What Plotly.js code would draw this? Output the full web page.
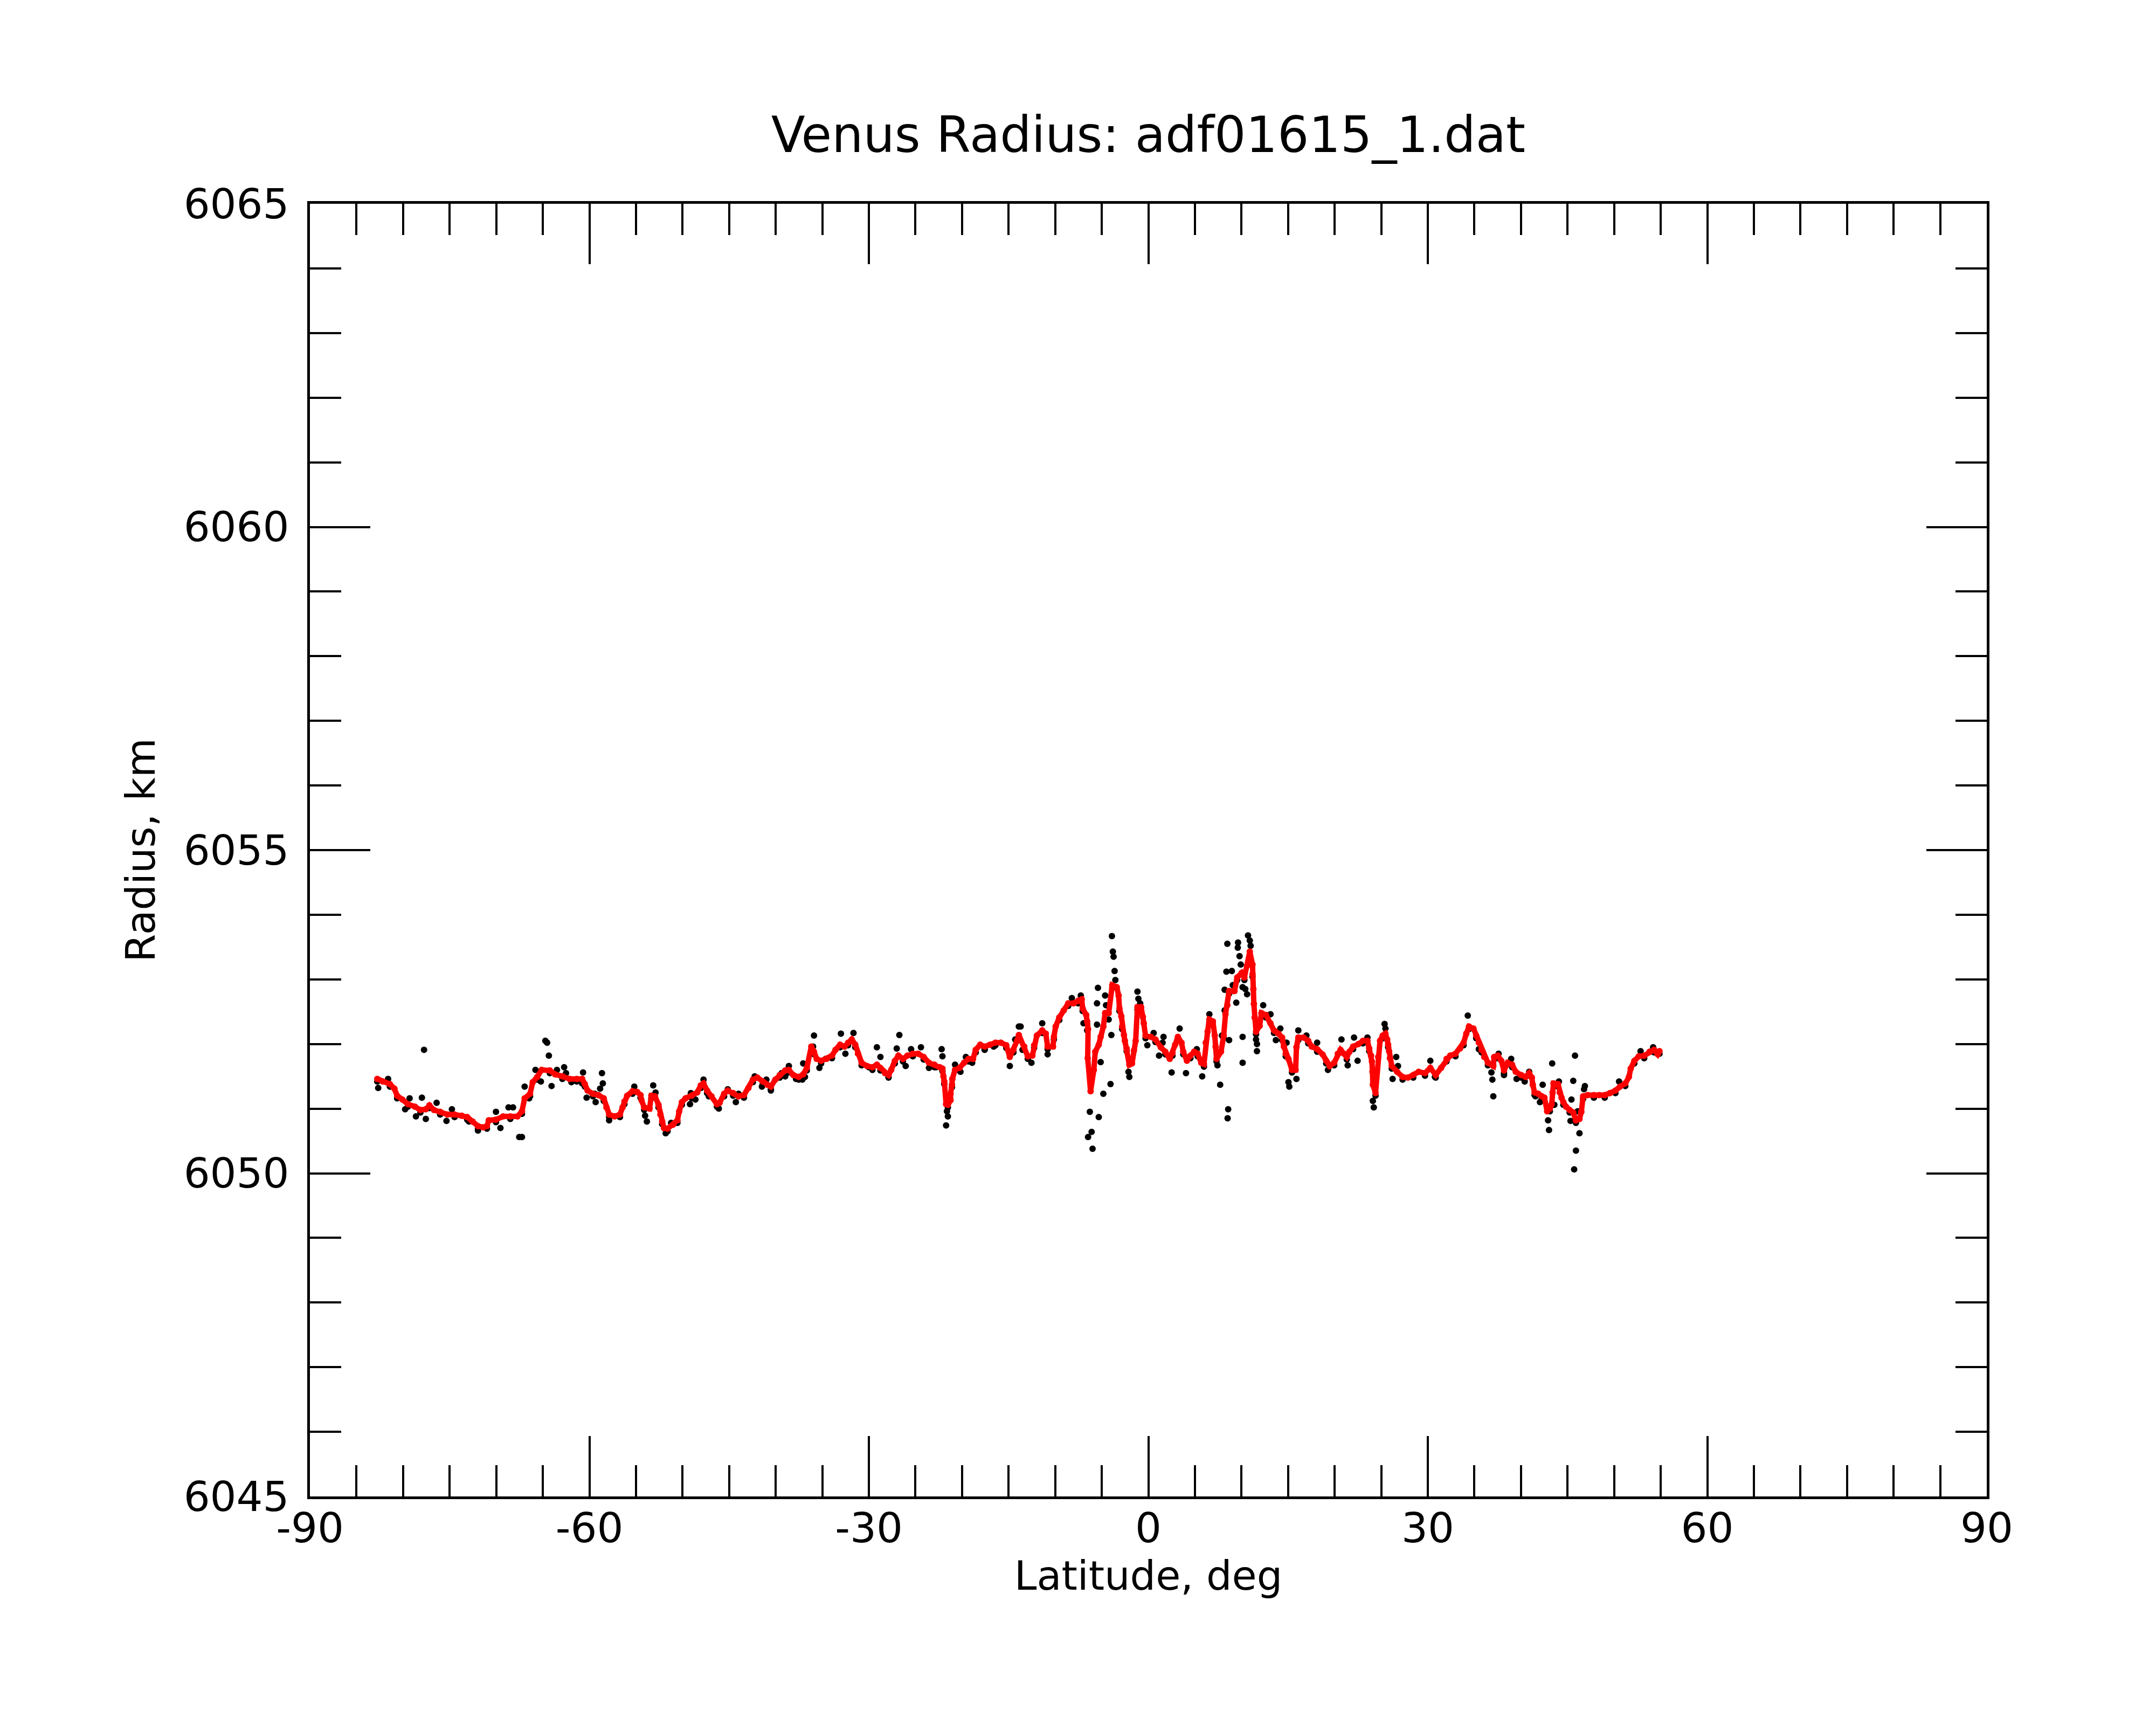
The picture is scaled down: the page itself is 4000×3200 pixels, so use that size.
<!DOCTYPE html>
<html>
<head>
<meta charset="utf-8">
<script src="https://cdn.plot.ly/plotly-3.0.1.min.js"></script>
<style>
  html, body { margin: 0; padding: 0; background: #fff; }
  #graph { width: 4000px; height: 3200px; }
</style>
</head>
<body>
<div id="graph"></div>
<script>
// filtered radius profile (red)
const redLat = [
  -82.77, -82.19, -81.42, -80.93, -80.64, -80.07, -79.49, -78.72, -78.14, -77.56,
  -77.17, -76.69, -76.02, -75.24, -74.47, -73.70, -73.12, -72.54, -71.96, -71.39,
  -71.00, -70.80, -70.03, -69.26, -68.49, -67.72, -67.24, -66.95, -66.37, -66.08,
  -65.60, -65.12, -64.25, -63.67, -62.90, -62.12, -61.35, -60.78, -60.49, -60.20,
  -59.62, -59.04, -58.46, -58.17, -57.88, -57.30, -56.72, -56.44, -56.24, -55.95,
  -55.37, -54.89, -54.51, -54.41, -54.12, -53.54, -53.35, -52.96, -52.58, -52.38,
  -52.19, -52.00, -51.61, -51.03, -50.55, -50.36, -50.07, -49.68, -49.01, -48.43,
  -48.04, -47.75, -47.37, -46.89, -46.31, -46.02, -45.54, -45.15, -44.57, -43.99,
  -43.41, -42.93, -42.45, -41.97, -41.39, -40.91, -40.52, -40.04, -39.56, -38.98,
  -38.59, -38.11, -37.53, -37.05, -36.66, -36.18, -35.89, -35.60, -35.12, -34.54,
  -33.96, -33.58, -33.09, -32.61, -32.23, -31.84, -31.46, -31.17, -30.78, -30.20,
  -29.62, -29.14, -28.76, -28.27, -27.89, -27.60, -27.21, -26.83, -26.34, -25.86,
  -25.28, -24.70, -24.12, -23.55, -22.97, -22.39, -22.10, -22.00, -21.90, -21.71,
  -21.52, -21.23, -21.23, -21.08, -21.04, -20.75, -20.27, -19.78, -19.30, -18.82,
  -18.53, -18.05, -17.57, -16.99, -16.41, -15.83, -15.25, -14.87, -14.48, -14.09,
  -13.90, -13.32, -12.94, -12.45, -12.26, -11.97, -11.39, -11.01, -10.81, -10.23,
  -10.14, -9.95, -9.56, -9.08, -8.60, -8.02, -7.53, -7.15, -7.05, -6.67,
  -6.57, -6.47, -6.51, -6.20, -6.20, -5.85, -5.70, -5.32, -5.12, -4.83,
  -4.64, -4.26, -3.87, -3.39, -3.19, -3.10, -2.90, -2.81, -2.62, -2.52,
  -2.33, -2.04, -1.75, -1.55, -1.36, -1.17, -0.78, -0.59, -0.49, -0.30,
  0.28, 0.76, 1.34, 1.82, 2.30, 2.59, 2.88, 3.17, 3.56, 3.75,
  4.14, 4.52, 4.91, 5.29, 5.68, 5.97, 6.16, 6.36, 6.55, 6.93,
  7.13, 7.22, 7.32, 7.80, 8.09, 8.28, 8.48, 8.67, 9.15, 9.25,
  9.54, 10.02, 10.31, 10.60, 10.89, 11.18, 11.18, 11.27, 11.33, 11.41,
  11.56, 11.95, 12.14, 12.62, 13.11, 13.49, 13.97, 14.36, 14.55, 14.75,
  15.04, 15.42, 15.81, 15.90, 16.10, 16.67, 17.16, 17.54, 18.12, 18.70,
  19.09, 19.47, 19.95, 20.34, 20.63, 21.01, 21.30, 21.59, 21.98, 22.56,
  23.04, 23.52, 23.71, 23.91, 24.00, 24.06, 24.10, 24.39, 24.68, 24.87,
  25.16, 25.45, 25.64, 25.74, 25.84, 25.93, 26.13, 26.71, 27.29, 27.86,
  28.44, 29.02, 29.70, 30.27, 30.85, 31.43, 32.01, 32.40, 32.97, 33.46,
  33.84, 34.13, 34.42, 34.90, 35.19, 35.48, 35.77, 36.06, 36.45, 37.03,
  37.12, 37.51, 37.89, 38.18, 38.57, 39.05, 39.44, 40.02, 40.50, 40.88,
  41.17, 41.27, 41.46, 41.85, 42.23, 42.52, 42.81, 43.10, 43.30, 43.39,
  43.49, 43.97, 44.16, 44.36, 44.55, 44.84, 45.22, 45.61, 45.90, 46.28,
  46.48, 46.67, 47.15, 47.83, 48.41, 48.99, 49.56, 50.14, 50.63, 51.20,
  51.59, 51.78, 52.17, 52.65, 53.23, 53.81, 54.29, 54.68, 54.87
];
const redRad = [
  6051.46, 6051.42, 6051.38, 6051.31, 6051.20, 6051.14, 6051.07, 6051.03, 6050.98, 6050.99,
  6051.05, 6050.98, 6050.95, 6050.91, 6050.91, 6050.89, 6050.87, 6050.80, 6050.73, 6050.71,
  6050.73, 6050.82, 6050.83, 6050.88, 6050.88, 6050.88, 6050.96, 6051.16, 6051.23, 6051.41,
  6051.49, 6051.60, 6051.59, 6051.53, 6051.50, 6051.46, 6051.46, 6051.46, 6051.38, 6051.28,
  6051.23, 6051.21, 6051.16, 6051.02, 6050.91, 6050.88, 6050.91, 6051.02, 6051.11, 6051.20,
  6051.27, 6051.26, 6051.21, 6051.13, 6051.02, 6051.00, 6051.20, 6051.19, 6051.06, 6050.91,
  6050.80, 6050.70, 6050.69, 6050.75, 6050.82, 6050.96, 6051.10, 6051.16, 6051.20, 6051.25,
  6051.36, 6051.39, 6051.28, 6051.19, 6051.07, 6051.09, 6051.23, 6051.28, 6051.24, 6051.19,
  6051.21, 6051.32, 6051.45, 6051.48, 6051.42, 6051.37, 6051.34, 6051.45, 6051.52, 6051.59,
  6051.60, 6051.52, 6051.49, 6051.53, 6051.63, 6051.96, 6051.88, 6051.77, 6051.74, 6051.77,
  6051.82, 6051.91, 6051.99, 6051.96, 6052.02, 6052.07, 6051.99, 6051.85, 6051.71, 6051.66,
  6051.64, 6051.68, 6051.63, 6051.55, 6051.52, 6051.60, 6051.74, 6051.82, 6051.77, 6051.82,
  6051.85, 6051.85, 6051.80, 6051.71, 6051.68, 6051.64, 6051.62, 6051.50, 6051.42, 6051.07,
  6051.06, 6051.13, 6051.23, 6051.37, 6051.46, 6051.60, 6051.63, 6051.71, 6051.77, 6051.77,
  6051.91, 6051.99, 6051.96, 6051.99, 6052.02, 6052.02, 6051.98, 6051.80, 6051.91, 6052.05,
  6052.14, 6051.96, 6051.81, 6051.82, 6051.98, 6052.13, 6052.21, 6052.16, 6051.96, 6051.96,
  6052.11, 6052.27, 6052.41, 6052.52, 6052.63, 6052.63, 6052.67, 6052.69, 6052.55, 6052.45,
  6052.35, 6052.23, 6051.78, 6051.43, 6051.27, 6051.60, 6051.88, 6051.99, 6052.11, 6052.27,
  6052.48, 6052.48, 6052.91, 6052.88, 6052.75, 6052.55, 6052.43, 6052.27, 6052.14, 6052.05,
  6051.93, 6051.68, 6051.70, 6051.90, 6052.05, 6052.57, 6052.57, 6052.42, 6052.32, 6052.13,
  6052.11, 6052.07, 6051.95, 6051.88, 6051.77, 6051.86, 6051.99, 6052.11, 6052.02, 6051.88,
  6051.74, 6051.82, 6051.88, 6051.85, 6051.71, 6051.69, 6052.02, 6052.19, 6052.38, 6052.35,
  6052.13, 6051.96, 6051.77, 6051.88, 6052.13, 6052.46, 6052.60, 6052.82, 6052.82, 6052.82,
  6053.03, 6053.10, 6053.03, 6053.21, 6053.43, 6053.23, 6053.08, 6052.85, 6052.62, 6052.41,
  6052.19, 6052.28, 6052.48, 6052.45, 6052.32, 6052.21, 6052.16, 6052.10, 6051.96, 6051.85,
  6051.77, 6051.60, 6051.60, 6051.95, 6052.10, 6052.10, 6052.05, 6051.96, 6051.92, 6051.84,
  6051.74, 6051.66, 6051.71, 6051.85, 6051.91, 6051.85, 6051.80, 6051.88, 6051.96, 6052.00,
  6052.05, 6052.05, 6051.93, 6051.82, 6051.73, 6051.57, 6051.37, 6051.24, 6051.80, 6052.05,
  6052.13, 6052.16, 6052.07, 6051.99, 6051.89, 6051.78, 6051.66, 6051.57, 6051.49, 6051.48,
  6051.52, 6051.57, 6051.55, 6051.63, 6051.52, 6051.63, 6051.77, 6051.82, 6051.85, 6051.93,
  6052.02, 6052.16, 6052.27, 6052.24, 6052.13, 6052.02, 6051.91, 6051.80, 6051.71, 6051.66,
  6051.80, 6051.82, 6051.74, 6051.59, 6051.71, 6051.68, 6051.57, 6051.52, 6051.49, 6051.55,
  6051.48, 6051.37, 6051.25, 6051.23, 6051.19, 6051.17, 6050.96, 6051.00, 6051.07, 6051.25,
  6051.39, 6051.38, 6051.25, 6051.17, 6051.10, 6051.03, 6050.98, 6050.94, 6050.82, 6050.84,
  6050.95, 6051.19, 6051.21, 6051.21, 6051.21, 6051.21, 6051.24, 6051.28, 6051.34, 6051.39,
  6051.49, 6051.62, 6051.74, 6051.81, 6051.82, 6051.88, 6051.91, 6051.84, 6051.89
];

// raw radius samples (black)
const blackLat = [
  -82.77, -81.42, -80.64, -79.49, -78.14, -77.17, -76.02, -74.47, -73.12, -71.96,
  -71.00, -70.03, -68.49, -67.24, -66.37, -65.60, -64.25, -62.90, -61.35, -60.49,
  -59.62, -58.46, -57.88, -56.72, -56.24, -55.37, -54.51, -54.12, -53.35, -52.58,
  -52.19, -51.61, -50.55, -50.07, -49.01, -48.04, -47.37, -46.31, -45.54, -44.57,
  -43.41, -42.45, -41.39, -40.52, -39.56, -38.59, -37.53, -36.66, -35.89, -35.12,
  -33.96, -33.09, -32.23, -31.46, -30.78, -29.62, -28.76, -27.89, -27.21, -26.34,
  -25.28, -24.12, -22.97, -22.10, -21.91, -21.52, -21.08, -20.27, -19.30, -18.53,
  -17.57, -16.41, -15.25, -14.48, -13.90, -12.94, -12.26, -11.39, -10.81, -10.14,
  -9.56, -8.60, -7.53, -7.05, -6.57, -3.87, -3.10, -2.81, -2.33, -1.17,
  -0.30, 0.76, 1.82, 2.59, 3.17, 3.75, 4.52, 5.29, 5.97, 6.55,
  7.32, 8.09, 8.67, 9.54, 10.31, 11.18, 11.56, 12.62, 13.49, 14.36,
  14.75, 15.42, 16.10, 17.16, 18.12, 19.09, 19.95, 20.63, 21.30, 21.98,
  23.04, 23.71, 24.39, 25.16, 25.74, 26.13, 27.29, 28.44, 29.70, 30.85,
  32.01, 32.97, 33.84, 34.42, 35.19, 35.77, 36.45, 37.51, 38.18, 39.05,
  40.02, 40.88, 41.46, 42.23, 43.10, 43.97, 44.55, 45.22, 45.90, 46.67,
  47.83, 48.99, 50.14, 51.20, 52.17, 53.23, 54.29, 54.87,
  -77.75, -82.67, -81.61, -79.78, -79.30, -78.62, -77.98, -77.56, -76.40, -75.34,
  -74.76, -72.93, -71.96, -70.03, -69.55, -68.20, -68.68, -67.53, -67.24, -66.95,
  -66.47, -65.79, -65.21, -64.73, -64.54, -64.35, -64.06, -63.48, -62.71, -62.51,
  -61.93, -60.68, -60.78, -60.30,
  -58.65, -58.56, -58.85, -59.43, -59.33, -57.88, -55.18, -54.02, -53.83, -53.15,
  -52.90, -51.81, -51.23, -49.20, -49.11, -48.62, -47.75, -47.18, -46.11, -45.15,
  -44.28, -43.99, -42.26, -41.48, -41.00, -40.52, -39.36, -38.98, -38.59, -37.82,
  -37.14, -37.05,
  -36.86, -35.89, -35.99, -35.31, -34.64, -33.00, -32.52, -31.65, -30.01, -29.14,
  -28.76, -27.89, -27.01, -26.73, -26.05, -25.47, -24.41, -23.55, -22.78, -22.19,
  -22.10, -21.62, -21.52, -21.71, -20.75, -20.17, -19.59, -18.91, -17.57, -16.60,
  -14.87, -14.29, -13.90,
  -13.71, -13.51, -12.55, -11.39, -10.81, -8.21, -7.25, -6.96, -6.57, -6.28,
  -6.09, -6.47, -5.99, -5.32, -5.51, -5.41, -5.51, -5.12, -4.83, -4.64,
  -4.54, -4.26, -3.97, -4.06, -3.91, -3.81, -3.73, -3.62, -3.54, -2.13,
  -2.04, -1.17, -1.07, -0.88, -0.11, 0.57, 1.63, 1.53, 1.15, 2.50,
  3.36, 4.04, 5.20, 5.78, 6.55, 7.42, 7.71, 7.90, 8.57, 8.51,
  8.67, 8.48, 8.38, 8.96, 9.06, 8.19, 8.19,
  9.44, 9.63, 9.60, 9.79, 9.92, 10.12, 10.41, 10.60, 10.70, 10.89,
  10.98, 10.12, 10.12, 11.66, 11.66, 11.56, 12.33, 13.11, 13.69, 14.17,
  14.84, 15.04, 15.13, 15.90, 16.10, 16.97, 18.12, 19.28, 20.73, 21.40,
  22.08, 22.46, 23.52, 24.20, 24.10, 25.36, 25.45, 26.61, 26.80, 26.22,
  30.27, 30.76,
  34.29, 35.48, 36.83, 36.93, 37.03, 37.60, 38.18, 38.95, 39.53, 40.40,
  40.88, 41.56, 42.04, 42.33, 42.91, 43.01, 43.35, 43.58, 44.07, 45.42,
  45.32, 45.61, 45.80, 45.90, 45.71, 46.28, 46.09, 46.86, 46.77, 50.53,
  52.84, 54.19
];
const blackRad = [
  6051.42, 6051.34, 6051.16, 6051.03, 6050.94, 6051.01, 6050.91, 6050.87, 6050.83, 6050.69,
  6050.69, 6050.79, 6050.84, 6050.92, 6051.19, 6051.45, 6051.55, 6051.46, 6051.42, 6051.34,
  6051.19, 6051.12, 6050.87, 6050.87, 6051.07, 6051.23, 6051.17, 6050.98, 6051.16, 6051.02,
  6050.76, 6050.65, 6050.78, 6051.06, 6051.16, 6051.32, 6051.24, 6051.03, 6051.19, 6051.20,
  6051.17, 6051.41, 6051.38, 6051.30, 6051.48, 6051.56, 6051.45, 6051.59, 6051.84, 6051.70,
  6051.78, 6051.95, 6051.98, 6051.95, 6051.67, 6051.60, 6051.59, 6051.48, 6051.70, 6051.73,
  6051.81, 6051.76, 6051.64, 6051.58, 6051.38, 6051.02, 6051.33, 6051.59, 6051.73, 6051.87,
  6051.92, 6051.98, 6051.94, 6051.87, 6052.10, 6051.77, 6051.94, 6052.17, 6051.92, 6052.07,
  6052.37, 6052.59, 6052.63, 6052.51, 6052.31, 6052.87, 6052.51, 6052.23, 6051.89, 6052.53,
  6052.09, 6052.03, 6051.84, 6051.82, 6052.07, 6051.84, 6051.78, 6051.81, 6051.65, 6052.34,
  6051.73, 6052.09, 6052.78, 6052.99, 6052.99, 6053.04, 6052.15, 6052.41, 6052.17, 6052.06,
  6051.81, 6051.56, 6052.06, 6052.01, 6051.88, 6051.70, 6051.67, 6051.87, 6051.76, 6051.92,
  6052.01, 6051.89, 6051.20, 6052.09, 6051.95, 6051.62, 6051.45, 6051.48, 6051.51, 6051.48,
  6051.73, 6051.81, 6051.98, 6052.23, 6052.09, 6051.87, 6051.67, 6051.78, 6051.55, 6051.64,
  6051.48, 6051.51, 6051.21, 6051.15, 6050.96, 6051.34, 6051.06, 6050.94, 6050.78, 6051.15,
  6051.17, 6051.17, 6051.24, 6051.35, 6051.70, 6051.78, 6051.87, 6051.85,
  6051.91, 6051.32, 6051.46, 6050.99, 6051.16, 6050.88, 6051.17, 6050.84, 6051.09, 6050.81,
  6050.99, 6050.80, 6050.66, 6050.95, 6050.70, 6051.02, 6051.02, 6050.56, 6050.56, 6051.34,
  6051.16, 6051.60, 6051.42, 6052.05, 6052.02, 6051.82, 6051.35, 6051.60, 6051.64, 6051.55,
  6051.41, 6051.56, 6051.39, 6051.17,
  6051.55, 6051.39, 6051.31, 6051.23, 6051.10, 6050.82, 6051.34, 6050.89, 6050.80, 6051.36,
  6051.25, 6050.62, 6050.78, 6051.07, 6051.24, 6051.14, 6051.45, 6051.19, 6051.00, 6051.30,
  6051.10, 6051.23, 6051.50, 6051.34, 6051.45, 6051.28, 6051.55, 6051.50, 6051.66, 6051.46,
  6051.45, 6051.70,
  6051.49, 6052.13, 6051.96, 6051.63, 6051.77, 6052.16, 6051.85, 6052.17, 6051.64, 6051.95,
  6051.80, 6051.49, 6051.93, 6052.14, 6051.66, 6051.92, 6051.95, 6051.63, 6051.64, 6051.92,
  6051.81, 6050.96, 6050.88, 6050.74, 6051.68, 6051.57, 6051.80, 6051.71, 6051.91, 6051.96,
  6051.66, 6052.07, 6052.27,
  6052.27, 6051.91, 6051.71, 6052.32, 6051.84, 6052.71, 6052.75, 6052.32, 6052.21, 6050.95,
  6050.64, 6050.56, 6050.38, 6050.87, 6052.30, 6052.87, 6052.63, 6051.72, 6051.23, 6052.75,
  6052.60, 6052.38, 6052.14, 6051.38, 6053.67, 6053.43, 6053.35, 6053.13, 6052.99, 6051.57,
  6051.49, 6052.81, 6052.70, 6052.63, 6051.98, 6052.17, 6052.11, 6052.02, 6051.82, 6051.56,
  6052.24, 6051.55, 6051.92, 6051.50, 6052.46, 6051.67, 6051.37, 6052.13, 6050.99, 6050.85,
  6052.06, 6053.55, 6053.12, 6053.13, 6052.91, 6052.84, 6052.52,
  6052.64, 6053.57, 6053.49, 6053.36, 6053.23, 6052.88, 6052.85, 6052.77, 6053.68, 6053.60,
  6053.52, 6052.11, 6051.71, 6052.00, 6051.89, 6052.07, 6052.60, 6052.46, 6052.06, 6052.24,
  6052.02, 6051.41, 6051.34, 6051.46, 6052.21, 6052.13, 6052.02, 6051.60, 6052.07, 6051.67,
  6052.10, 6051.74, 6052.10, 6051.02, 6051.12, 6052.31, 6052.24, 6051.80, 6051.66, 6051.46,
  6051.74, 6051.49,
  6052.44, 6051.92, 6051.56, 6051.45, 6051.19, 6051.85, 6051.52, 6051.77, 6051.46, 6051.42,
  6051.57, 6051.19, 6051.10, 6051.37, 6050.82, 6050.67, 6051.70, 6051.06, 6051.42, 6051.14,
  6050.81, 6051.43, 6051.82, 6050.35, 6050.06, 6050.62, 6050.96, 6051.35, 6051.30, 6051.42,
  6051.89, 6051.95
];

const xTicks = [-90, -60, -30, 0, 30, 60, 90];
const yTicks = [6045, 6050, 6055, 6060, 6065];

const traces = [
  {
    x: blackLat,
    y: blackRad,
    type: 'scatter',
    mode: 'markers',
    name: 'raw',
    marker: { size: 12, color: '#000000' },
    hoverinfo: 'skip'
  },
  {
    x: redLat,
    y: redRad,
    type: 'scatter',
    mode: 'lines+markers',
    name: 'filtered',
    line: { color: '#ff0000', width: 10 },
    marker: { size: 12, color: '#ff0000' },
    hoverinfo: 'skip'
  }
];

const axisCommon = {
  tickmode: 'array',
  ticks: 'inside',
  ticklen: 112,
  tickwidth: 4,
  tickcolor: '#000',
  showline: true,
  linewidth: 5,
  linecolor: '#000',
  mirror: 'allticks',
  showgrid: false,
  zeroline: false,
  tickfont: { size: 77, color: '#000' }
};

const layout = {
  width: 4000,
  height: 3200,
  margin: { l: 575, r: 314, t: 378, b: 424, pad: 0 },
  paper_bgcolor: '#fff',
  plot_bgcolor: '#fff',
  showlegend: false,
  font: { family: 'DejaVu Sans, sans-serif', color: '#000', size: 75 },
  title: {
    text: 'Venus Radius: adf01615_1.dat',
    font: { size: 92 },
    xref: 'paper', x: 0.5, xanchor: 'center',
    yref: 'container', y: 1 - 250 / 3200, yanchor: 'middle'
  },
  xaxis: Object.assign({}, axisCommon, {
    range: [-90, 90],
    tickvals: xTicks,
    ticktext: xTicks.map(String),
    ticklabelstandoff: -12,
    minor: { tickmode: 'linear', tick0: -90, dtick: 5, ticks: 'inside', ticklen: 58, tickwidth: 4, tickcolor: '#000', showgrid: false },
    title: { text: 'Latitude, deg', font: { size: 75 }, standoff: 0 }
  }),
  yaxis: Object.assign({}, axisCommon, {
    range: [6045, 6065],
    tickvals: yTicks,
    ticktext: yTicks.map(String),
    ticklabelstandoff: 18,
    minor: { tickmode: 'linear', tick0: 6045, dtick: 1, ticks: 'inside', ticklen: 58, tickwidth: 4, tickcolor: '#000', showgrid: false },
    title: { text: 'Radius, km', font: { size: 75 }, standoff: 30 }
  })
};

Plotly.newPlot('graph', traces, layout, { displayModeBar: false, staticPlot: true });
</script>
</body>
</html>
